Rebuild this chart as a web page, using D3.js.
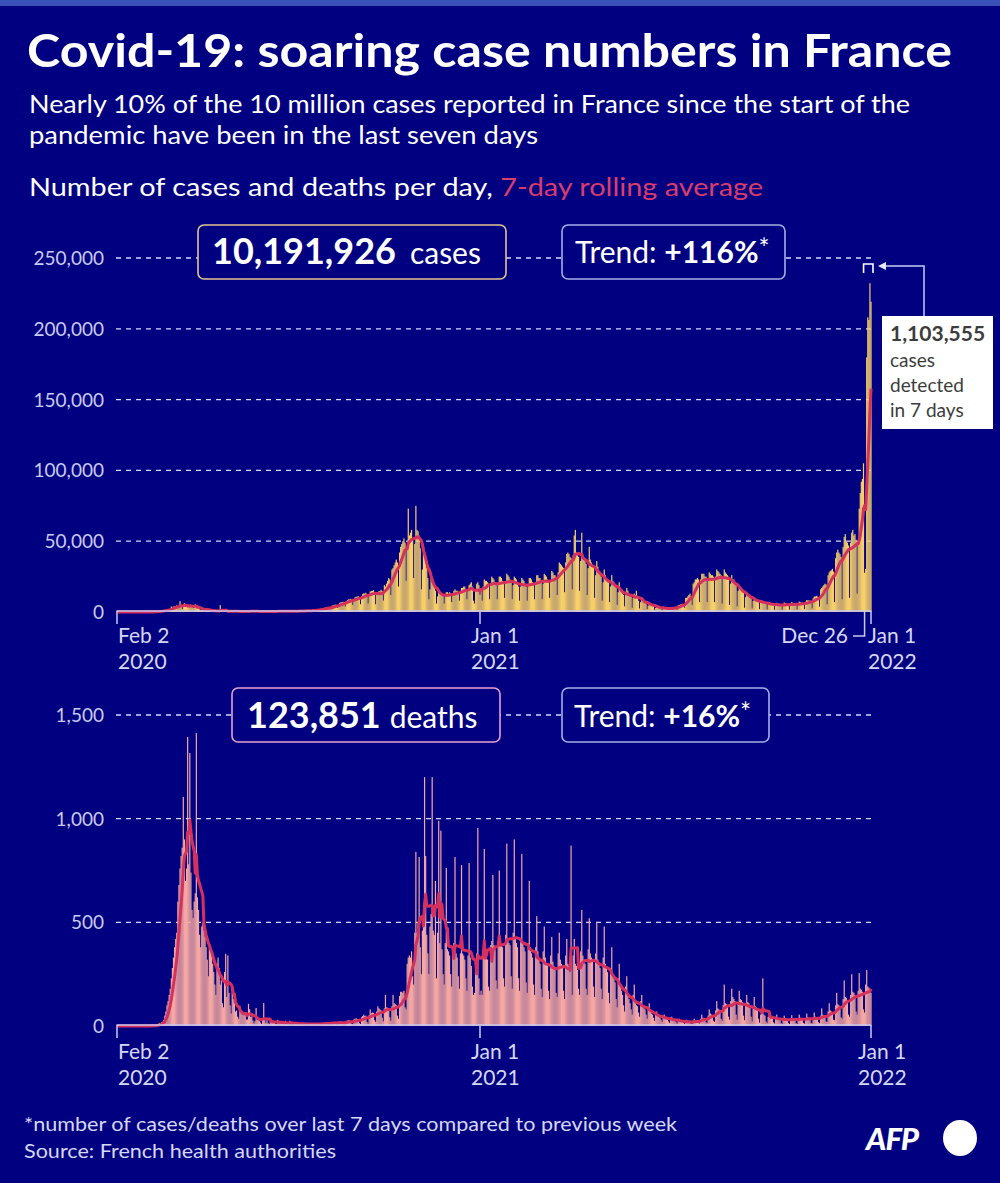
<!DOCTYPE html>
<html>
<head>
<meta charset="utf-8">
<title>Covid-19: soaring case numbers in France</title>
<script src="https://cdn.jsdelivr.net/npm/d3@7"></script>
<style>
  body { margin: 0; background: #000080; }
  svg { display: block; font-family: Lato, "Noto Sans", sans-serif; }
  .grid line { stroke: #d4d7fa; stroke-width: 1.3; stroke-dasharray: 5 5; }
  .ylab { fill: #c9cbf2; font-size: 19px; text-anchor: end; }
  .xlab { fill: #d6d8f6; font-size: 21px; }
  .axis { stroke: #c8caf2; stroke-width: 1.5; fill: none; }
</style>
</head>
<body>
<div id="chart"></div>
<script>
// daily values from Feb 2 2020 (Sunday) to Jan 1 2022, one row = one week
var startDate = new Date(2020, 1, 2);

// new cases per day, in thousands
var casesK = [
  0,0,0,0,0,0,0, 0,0,0,0,0,0,0, 0,0,0,0,0,0,0, 0,0,0,0,0.01,0.02,0.03,
  0.03,0.06,0.05,0.04,0.08,0.1,0.2, 0.1,0.3,0.4,0.5,0.6,0.8,0.8,
  0.9,1.2,1.1,1.1,1.6,1.9,1.8, 1.5,3.9,2.5,3.9,3.9,3.8,4.6,
  2.6,4.4,7.6,4.9,2.1,5.2,6.2, 3.5,4.3,3.9,4.2,3.3,5.0,4.3,
  2.9,4.1,5.5,2.6,2.6,2.6,1.9, 1.1,1.9,2.4,1.5,1.8,1.5,1.6,
  1.1,1.2,0.9,0.8,0.9,0.8,0.7, 0.6,0.6,0.9,0.8,4.8,0.8,0.6,
  0.3,0.5,0.6,0.6,0.5,0.6,0.4, 0.3,0.4,0.5,0.5,0.5,0.5,0.4,
  0.3,0.3,0.4,0.4,0.4,0.4,0.3, 0.3,0.4,0.5,0.6,0.6,0.5,0.4,
  0.3,0.4,0.5,0.5,0.5,0.4,0.3, 0.3,0.3,0.4,0.5,0.5,0.4,0.3,
  0.3,0.3,0.5,0.5,0.5,0.5,0.4, 0.3,0.4,0.6,0.6,0.6,0.5,0.5,
  0.4,0.4,0.7,0.7,0.7,0.6,0.6, 0.4,0.5,0.7,0.7,0.7,0.7,0.6,
  0.5,0.6,0.9,1.0,0.9,0.9,0.8, 0.6,0.7,1.2,1.2,1.2,1.2,1.1,
  0.9,1.1,1.8,1.9,2.0,2.1,2.0, 1.5,1.8,3.0,3.2,3.3,3.4,3.2,
  2.0,2.4,4.5,4.8,5.0,5.2,5.0, 3.0,3.5,6.5,6.8,7.0,7.2,7.0,
  4.0,7.5,8.4,8.9,8.9,9.2,8.6, 5.0,9.1,10.3,10.8,10.8,11.1,10.3,
  5.5,11.1,12.6,13.1,13.1,13.6,12.6, 6.0,12.6,14.4,14.9,14.9,15.4,13.9,
  5.5,12.8,13.7,14.7,14.7,15.7,14.7, 8,19,18,20,22,24,23,
  12,30,31,33,35,37,35, 18,42,46,48,50,52,49,
  22,46,73,54,56,58,52, 24,48,75,58,57,54,45,
  16,30,46,38,35,31,24, 9,16,25,21,19,17,15,
  6,11,15,14,13,13,12, 6,11,14,14,13,14,13,
  7,12,15,16,15,15,14, 8,14,17,17,18,18,15,
  9,15,19,20,21,18,8, 6,15,20,21,19,12,17,
  8,18,23,22,22,21,20, 9,19,25,24,23,21,19,
  9,20,25,25,24,22,20, 10,20,27,26,25,23,21,
  9,19,25,24,23,21,18, 8,18,24,23,22,20,18,
  8,19,24,24,23,21,19, 9,21,26,26,24,24,22,
  9,20,27,26,25,23,21, 10,22,29,28,26,26,24,
  12,28,35,34,33,32,31, 14,35,41,42,41,39,38,
  16,40,54,58,42,40,39, 15,36,56,40,38,36,34,
  12,31,46,37,35,33,31, 10,26,36,32,29,28,25,
  8,21,30,26,24,22,21, 7,18,26,22,21,18,17,
  5,14,21,17,14,13,12, 4,12,17,15,13,11,11,
  3,10,13,12,15,10,8, 2.5,7,10.4,8.4,7.4,6.4,5.9,
  2,4.5,6.7,5.7,5.2,4.7,4.2, 1.5,2.9,4.3,3.8,3.3,3,2.8,
  1.2,2.3,3.4,2.9,2.7,2.5,2.3, 1.2,2.8,3.1,3.2,3.3,3.4,3.2,
  1.6,4.7,5.0,5.3,5.5,5.8,5.6, 3,10,10,11,12,13,11,
  5,20,21,23,23,24,23, 7,23,27,27,27,25,25,
  7,23,28,27,26,26,25, 7,25,30,29,28,27,26,
  6,24,30,28,27,26,25, 5,20,26,23,23,21,20,
  4,15,19,17,16,15,15, 3,10.5,13.8,12.8,11.8,10.8,9.8,
  2.5,7.8,10.1,9.1,8.6,8.1,7.6, 2,6.4,8.3,7.8,7.3,6.8,6.3,
  1.8,5.3,7,6.5,6,5.7,5.3, 1.6,4.9,6.5,6,5.5,5.2,5,
  1.6,5,6.8,6.2,5.8,5.5,5.2, 1.7,5.4,7,6.5,6,5.9,5.4,
  1.8,5.8,7.4,6.9,6.6,6.4,6.1, 2,7.2,8.4,8.2,8.2,8,7.7,
  2.6,9.6,10.9,10.9,11.4,10.9,10.4, 3.8,16,17,18,19,20,19.5,
  5.5,26,28,29,29.5,30.5,28.5, 7,38,42,44,42,41,39,
  9,46,53,55,50,49,47, 10,49,56,58,54,55,51,
  13,50,73,84,92,94,105, 27.7,30.4,179.8,208.1,206.2,232.2,219.1
];

// deaths per day
var deaths = [
  0,0,0,0,0,0,0, 0,0,0,0,0,0,0, 0,0,0,0,0,1,0, 0,0,0,0,0,0,0,
  0,0,1,1,1,2,1, 2,3,5,8,15,13,18,
  20,30,50,70,100,120,150, 180,230,280,330,380,420,450,
  600,680,760,820,860,1105,900, 700,760,1394,780,1317,740,560,
  520,600,640,1413,620,560,440, 380,480,500,460,430,380,320,
  240,400,380,360,300,260,200, 150,300,330,280,200,220,110,
  90,260,348,140,340,160,100, 60,180,130,110,70,75,45,
  35,98,65,66,52,57,52, 31,31,107,81,44,46,27,
  13,23,87,29,28,24,17, 10,29,111,28,14,28,14,
  9,23,30,16,20,24,10, 8,30,22,14,18,13,10,
  6,25,16,14,12,25,8, 6,15,11,14,10,20,5,
  4,13,12,14,11,13,4, 3,11,12,13,12,10,4,
  3,13,11,14,12,13,5, 4,14,16,17,14,17,6,
  5,17,16,20,18,20,7, 5,22,17,21,19,18,8,
  6,25,26,28,26,24,10, 7,32,35,38,34,33,14,
  9,42,48,55,48,50,20, 12,52,80,62,65,64,28,
  20,70,95,85,80,75,40, 22,85,150,90,88,80,42,
  25,95,150,110,105,100,50, 35,145,165,165,160,170,90,
  80,300,330,340,330,360,240, 200,450,840,450,500,815,380,
  250,460,520,1200,820,440,350, 250,480,540,1200,460,440,700,
  230,450,990,400,942,370,250, 200,400,762,370,360,340,250,
  190,370,400,815,350,330,240, 180,350,776,350,340,320,230,
  170,340,786,330,290,190,150, 160,290,350,955,230,150,170,
  150,370,854,360,340,320,190, 170,390,410,728,390,370,220,
  180,410,750,410,390,380,230, 190,440,880,410,400,390,240,
  180,450,900,420,400,380,230, 170,410,830,400,380,360,210,
  160,400,700,380,350,330,200, 150,380,530,360,320,300,180,
  140,360,480,330,300,290,170, 130,340,430,310,290,270,160,
  140,350,450,320,300,280,170, 130,340,420,300,290,260,870,
  150,340,420,300,290,270,180, 150,360,560,340,320,300,180,
  150,370,520,350,330,310,190, 140,350,500,320,300,280,180,
  130,330,480,300,280,260,160, 110,280,380,250,230,210,130,
  90,230,300,200,170,150,100, 70,190,240,150,130,110,80,
  55,150,200,110,100,95,65, 45,120,150,95,85,80,55,
  35,90,110,70,60,55,40, 25,65,70,50,45,40,30,
  20,50,55,40,35,30,22, 15,40,45,32,30,25,18,
  12,30,35,25,22,20,15, 10,25,30,22,20,18,12,
  10,25,35,25,24,22,14, 12,35,55,40,35,32,18,
  15,50,80,60,55,50,25, 20,75,120,85,80,75,35,
  25,100,200,110,105,100,45, 30,120,180,140,130,120,55,
  30,115,170,130,125,115,50, 28,105,150,115,110,100,45,
  22,85,140,95,90,80,35, 16,55,80,230,55,50,22,
  14,45,70,50,45,40,18, 12,38,55,40,38,35,15,
  10,35,50,38,35,32,14, 10,35,52,38,36,33,14,
  10,36,55,40,37,34,15, 11,38,60,42,40,36,16,
  12,40,65,45,42,38,18, 14,50,85,55,50,48,22,
  20,70,110,75,70,65,30, 28,100,160,105,100,95,42,
  35,130,220,140,135,125,55, 45,150,250,165,160,150,70,
  55,170,255,180,175,165,80, 65,200,270,190,185,180,160
];

var caseTicks = [0, 50000, 100000, 150000, 200000, 250000];
var deathTicks = [0, 500, 1000, 1500];
var axisDates = [new Date(2020, 1, 2), new Date(2021, 0, 1), new Date(2022, 0, 1)];
var axisLabels = [["Feb 2", "2020"], ["Jan 1", "2021"], ["Jan 1", "2022"]];
var lastWeekStart = new Date(2021, 11, 26);

var W = 1000, H = 1183;
var navy = "#000080";

var svg = d3.select("#chart").append("svg")
  .attr("width", W)
  .attr("height", H);

svg.append("rect").attr("width", W).attr("height", H).attr("fill", navy);
svg.append("rect").attr("width", W).attr("height", 6).attr("fill", "#3b4fb8");

// fit a text element to a target width
function fit(t, w) {
  t.attr("textLength", w).attr("lengthAdjust", "spacingAndGlyphs");
  return t;
}

fit(svg.append("text").attr("x", 27).attr("y", 67)
  .attr("fill", "#fff").attr("font-size", 46).attr("font-weight", "bold")
  .text("Covid-19: soaring case numbers in France"), 925);

fit(svg.append("text").attr("x", 29).attr("y", 113)
  .attr("fill", "#fff").attr("font-size", 25)
  .text("Nearly 10% of the 10 million cases reported in France since the start of the"), 881);
fit(svg.append("text").attr("x", 29).attr("y", 144)
  .attr("fill", "#fff").attr("font-size", 25)
  .text("pandemic have been in the last seven days"), 509);
var sub = svg.append("text").attr("x", 29).attr("y", 196)
  .attr("fill", "#fff").attr("font-size", 25);
sub.append("tspan").text("Number of cases and deaths per day, ");
sub.append("tspan").attr("fill", "#d93d6e").text("7-day rolling average");
fit(sub, 734);

var x = d3.scaleTime()
  .domain(axisDates)
  .range([117, 480, 871]);

function day(i) { return d3.timeDay.offset(startDate, i); }

function rolling(vals) {
  return vals.map(function (v, i) {
    return d3.mean(vals.slice(Math.max(0, i - 6), i + 1));
  });
}

function panel(vals, y, ticks, barColor) {
  var g = svg.append("g");
  var grid = g.append("g").attr("class", "grid");
  ticks.filter(function (d) { return d > 0; }).forEach(function (t) {
    grid.append("line")
      .attr("x1", 116).attr("x2", 871)
      .attr("y1", y(t)).attr("y2", y(t));
  });
  g.append("g").selectAll("text")
    .data(ticks)
    .enter().append("text")
    .attr("class", "ylab")
    .attr("x", 104)
    .attr("y", function (d) { return y(d) + 7; })
    .text(d3.format(","));

  g.append("g").selectAll("rect")
    .data(vals)
    .enter().append("rect")
    .attr("x", function (d, i) { return x(day(i)) - 0.6; })
    .attr("width", 1.2)
    .attr("y", function (d) { return y(d); })
    .attr("height", function (d) { return y(0) - y(d); })
    .attr("fill", barColor);

  var avg = rolling(vals);
  g.append("path")
    .datum(avg)
    .attr("fill", "none")
    .attr("stroke", "#d6315d")
    .attr("stroke-width", 3)
    .attr("stroke-linejoin", "round")
    .attr("d", d3.line()
      .x(function (d, i) { return x(day(i)); })
      .y(function (d) { return y(d); }));

  g.append("line").attr("class", "axis")
    .attr("x1", 116.5).attr("x2", 871)
    .attr("y1", y(0) - 1).attr("y2", y(0) - 1);
  return g;
}

function box(x0, y0, w, h, stroke) {
  svg.append("rect")
    .attr("x", x0).attr("y", y0).attr("width", w).attr("height", h)
    .attr("rx", 6).attr("fill", navy)
    .attr("stroke", stroke).attr("stroke-width", 1.6);
}

function trendText(x0, y0, pct) {
  var t = svg.append("text").attr("x", x0).attr("y", y0)
    .attr("fill", "#fff").attr("font-size", 30);
  t.append("tspan").text("Trend: ");
  t.append("tspan").attr("font-weight", "bold").text(pct);
  t.append("tspan").attr("font-size", 26).attr("dy", -5).text("*");
}

// ---- cases panel
var yC = d3.scaleLinear().domain([0, 250000]).range([612, 258]);
panel(casesK.map(function (d) { return d * 1000; }), yC, caseTicks, "#f6cf6a");

box(198, 225, 308, 54, "#e6c38f");
var ct = svg.append("text").attr("x", 212).attr("y", 264).attr("fill", "#fff");
ct.append("tspan").attr("font-size", 36).attr("font-weight", "bold").text("10,191,926");
ct.append("tspan").attr("font-size", 30).attr("dx", 14).text("cases");
box(562, 225, 223, 54, "#a7aee6");
trendText(575, 263, "+116%");

// x axis, cases
var ax = svg.append("g");
[axisDates[0], axisDates[1], lastWeekStart, axisDates[2]].forEach(function (d, i) {
  ax.append("line").attr("class", "axis")
    .attr("x1", x(d)).attr("x2", x(d))
    .attr("y1", 611).attr("y2", i == 2 ? 636 : 624);
});
ax.append("line").attr("class", "axis")
  .attr("x1", 853).attr("x2", x(lastWeekStart) + 0.75)
  .attr("y1", 636).attr("y2", 636);
ax.append("text").attr("class", "xlab").attr("x", 848).attr("y", 643)
  .attr("text-anchor", "end").text("Dec 26");
[[118, 0], [471, 1], [868, 2]].forEach(function (p) {
  ax.append("text").attr("class", "xlab").attr("x", p[0]).attr("y", 643).text(axisLabels[p[1]][0]);
  ax.append("text").attr("class", "xlab").attr("x", p[0]).attr("y", 669).text(axisLabels[p[1]][1]);
});

// last-7-days annotation
var bx0 = x(lastWeekStart) - 1, bx1 = x(axisDates[2]) + 2;
svg.append("path")
  .attr("d", "M" + bx0 + ",273V264H" + bx1 + "V273")
  .attr("fill", "none").attr("stroke", "#fff").attr("stroke-width", 1.6);
svg.append("path")
  .attr("d", "M924,316V266H884")
  .attr("fill", "none").attr("stroke", "#c8cbf4").attr("stroke-width", 1.5);
svg.append("path")
  .attr("d", "M878,266L886,262L886,270Z")
  .attr("fill", "#e6e8ff");
svg.append("rect").attr("x", 882).attr("y", 316).attr("width", 111).attr("height", 113)
  .attr("fill", "#fff");
var note = svg.append("g").attr("fill", "#3c3c3c").attr("font-size", 19);
note.append("text").attr("x", 890).attr("y", 341).attr("font-weight", "bold").attr("font-size", 21)
  .text("1,103,555");
["cases", "detected", "in 7 days"].forEach(function (s, i) {
  note.append("text").attr("x", 890).attr("y", 367 + i * 25).text(s);
});

// ---- deaths panel
var yD = d3.scaleLinear().domain([0, 1500]).range([1026, 715]);
panel(deaths, yD, deathTicks, "#f5a7a3");

box(232, 688, 268, 54, "#e7a0cf");
var dt = svg.append("text").attr("x", 247).attr("y", 728).attr("fill", "#fff");
dt.append("tspan").attr("font-size", 36).attr("font-weight", "bold").text("123,851");
dt.append("tspan").attr("font-size", 30).attr("dx", 9).text("deaths");
box(562, 688, 207, 54, "#a7aee6");
trendText(574, 727, "+16%");

var ax2 = svg.append("g");
axisDates.forEach(function (d) {
  ax2.append("line").attr("class", "axis")
    .attr("x1", x(d)).attr("x2", x(d))
    .attr("y1", 1025).attr("y2", 1038);
});
[[118, 0], [471, 1], [858, 2]].forEach(function (p) {
  ax2.append("text").attr("class", "xlab").attr("x", p[0]).attr("y", 1059).text(axisLabels[p[1]][0]);
  ax2.append("text").attr("class", "xlab").attr("x", p[0]).attr("y", 1085).text(axisLabels[p[1]][1]);
});

// ---- footer
fit(svg.append("text").attr("x", 24).attr("y", 1131).attr("fill", "#d6d8f6").attr("font-size", 20)
  .text("*number of cases/deaths over last 7 days compared to previous week"), 653);
fit(svg.append("text").attr("x", 24).attr("y", 1158).attr("fill", "#d6d8f6").attr("font-size", 20)
  .text("Source: French health authorities"), 312);

svg.append("text").attr("x", 866).attr("y", 1150)
  .attr("fill", "#fff").attr("font-size", 31).attr("font-weight", 900)
  .attr("font-style", "italic").attr("letter-spacing", -1)
  .text("AFP");
svg.append("ellipse").attr("cx", 960).attr("cy", 1138).attr("rx", 17).attr("ry", 18)
  .attr("fill", "#fff");
</script>
</body>
</html>
